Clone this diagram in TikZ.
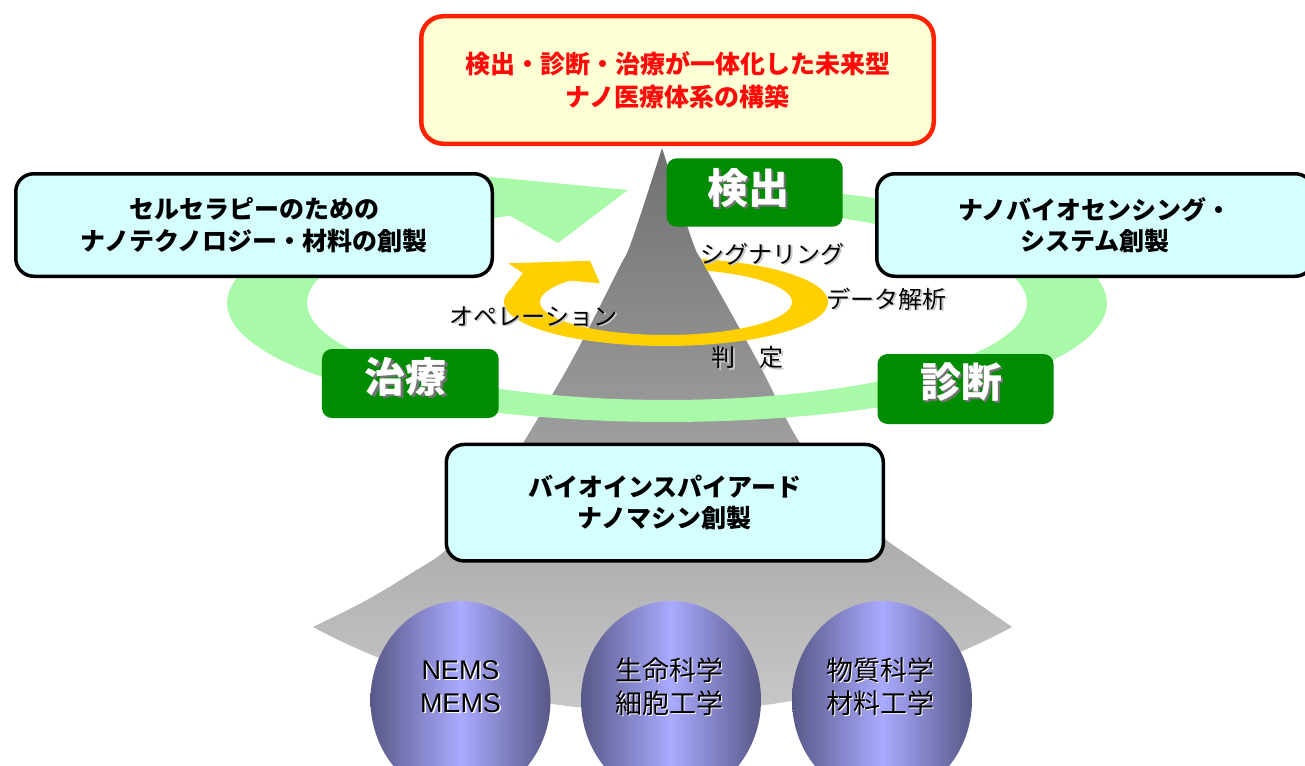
\documentclass[tikz,border=0pt]{standalone}
\usepackage{fontspec}
\usetikzlibrary{shapes.geometric}
\newfontfamily\jp{Noto Sans CJK JP}
\newfontfamily\lat{Liberation Sans}
\definecolor{titlefill}{HTML}{FFFFD5}
\definecolor{titlered}{HTML}{FF2200}
\definecolor{titletext}{HTML}{FF0A0A}
\definecolor{cyanfill}{HTML}{D5FFFF}
\definecolor{boxgreen}{HTML}{008C00}
\definecolor{lgreen}{HTML}{A8FAA8}
\definecolor{yel}{HTML}{FFCF00}
\definecolor{sphdark}{HTML}{585888}
\definecolor{sphlight}{HTML}{AAAAFF}
\definecolor{spiketop}{HTML}{707070}
\definecolor{spikebot}{HTML}{C8C8C8}
\begin{document}
\begin{tikzpicture}[x=1pt,y=-1pt,
  titlebox/.style={draw=titlered, line width=4.5pt, fill=titlefill, rounded corners=22pt,
    minimum width=512.5pt, minimum height=127.5pt, inner sep=0pt, align=center,
    text=titletext, font=\jp\bfseries\fontsize{25}{33}\selectfont},
  cbox/.style={draw=black, line width=3.5pt, fill=cyanfill, rounded corners=18pt,
    inner sep=0pt, align=center, font=\jp\bfseries\fontsize{25}{31.5}\selectfont},
  gbox/.style={fill=boxgreen, rounded corners=10pt, inner sep=0pt},
  gtext/.style={text=white, inner sep=0pt, font=\jp\bfseries\fontsize{41}{41}\selectfont},
  gshadow/.style={gtext, text=black!55},
  lbl/.style={inner sep=0pt, font=\jp\fontsize{24}{24}\selectfont},
  lblsh/.style={lbl, text=black!22},
  sphere/.style={ellipse, minimum width=180pt, minimum height=198pt, inner sep=0pt,
    left color=sphdark, right color=sphdark, middle color=sphlight},
  sphtext/.style={inner sep=0pt, align=center, font=\jp\fontsize{27}{33}\selectfont},
  sphlat/.style={sphtext, font=\lat\fontsize{27}{33}\selectfont},
]
\useasboundingbox (0,0) rectangle (1305,765);
% gray spike and base fan
\shade[top color=spiketop, bottom color=spikebot]
  plot[smooth, tension=0.6] coordinates {(313,627) (365,601) (410,574) (448,548) (490,497) (525,440) (572,360) (618,270) (632,240) (662,148)}
  -- plot[smooth, tension=0.6] coordinates {(662,148) (692,240) (706,268) (758,362) (798,440) (838,490) (878,533) (915,560) (960,591) (1012,627)}
  .. controls (895,690) and (765,712) .. (662,712)
  .. controls (560,712) and (430,690) .. (313,627) -- cycle;
% green ring arrow
\fill[lgreen] (480,176) -- (628,190) -- (558,243) -- (510,215.7)
  -- plot[domain=244.2:-80, samples=100] ({667+360*cos(\x)},{303+97*sin(\x)})
  -- plot[domain=-80:245, samples=100] ({667+440*cos(\x)},{303+119*sin(\x)})
  -- cycle;
% yellow ring arrow
\fill[yel] (508.3,263.3) -- (590,260.7) -- (600,283.3) -- (570,280.6)
  -- plot[domain=220.4:-71, samples=100] ({666+126*cos(\x)},{302+33*sin(\x)})
  -- plot[domain=-77.2:196, samples=100] ({666+162*cos(\x)},{302+44*sin(\x)})
  -- (523,273) -- cycle;
% cycle labels
\node[lblsh] (l1s) at (774,255.5) {シグナリング};
\node[lbl] (l1) at (772,254) {シグナリング};
\node[lblsh] (l2s) at (888,300.5) {データ解析};
\node[lbl] (l2) at (886,299) {データ解析};
\node[lblsh] (l3s) at (749,359) {判　定};
\node[lbl] (l3) at (747,357.5) {判　定};
\node[lblsh] (l4s) at (535.5,318) {オペレーション};
\node[lbl] (l4) at (533.5,316.5) {オペレーション};
% boxes
\node[titlebox] (top) at (677.5,80) {検出・診断・治療が一体化した未来型\\ナノ医療体系の構築};
\node[cbox, minimum width=476.5pt, minimum height=102.5pt] (left) at (254,225)
  {セルセラピーのための\\ナノテクノロジー・材料の創製};
\node[cbox, minimum width=436.5pt, minimum height=102.5pt] (right) at (1095,225)
  {ナノバイオセンシング・\\システム創製};
\node[cbox, minimum width=437pt, minimum height=116.5pt] (base) at (664.8,502.7)
  {バイオインスパイアード\\ナノマシン創製};
% green stage boxes
\node[gbox, minimum width=176pt, minimum height=68.4pt] (g1) at (754.7,192.5) {};
\node[gbox, minimum width=176.7pt, minimum height=69pt] (g2) at (410.3,383.5) {};
\node[gbox, minimum width=176pt, minimum height=70pt] (g3) at (965.5,389) {};
\node[gshadow] (g1s) at (750.5,190) {検出};
\node[gtext] (g1t) at (748,188) {検出};
\node[gshadow] (g2s) at (408,379) {治療};
\node[gtext] (g2t) at (405.5,377) {治療};
\node[gshadow] (g3s) at (963.5,384) {診断};
\node[gtext] (g3t) at (961,382) {診断};
% spheres
\node[sphere] (s1) at (460.5,700) {};
\node[sphere] (s2) at (671,700) {};
\node[sphere] (s3) at (882,700) {};
\node[sphlat, text=white] (s1h) at (462,688) {NEMS\\MEMS};
\node[sphlat] (s1t) at (460.5,686.5) {NEMS\\MEMS};
\node[sphtext, text=white] (s2h) at (670.5,688) {生命科学\\細胞工学};
\node[sphtext] (s2t) at (669,686.5) {生命科学\\細胞工学};
\node[sphtext, text=white] (s3h) at (881.5,688) {物質科学\\材料工学};
\node[sphtext] (s3t) at (880,686.5) {物質科学\\材料工学};
\end{tikzpicture}
\end{document}
